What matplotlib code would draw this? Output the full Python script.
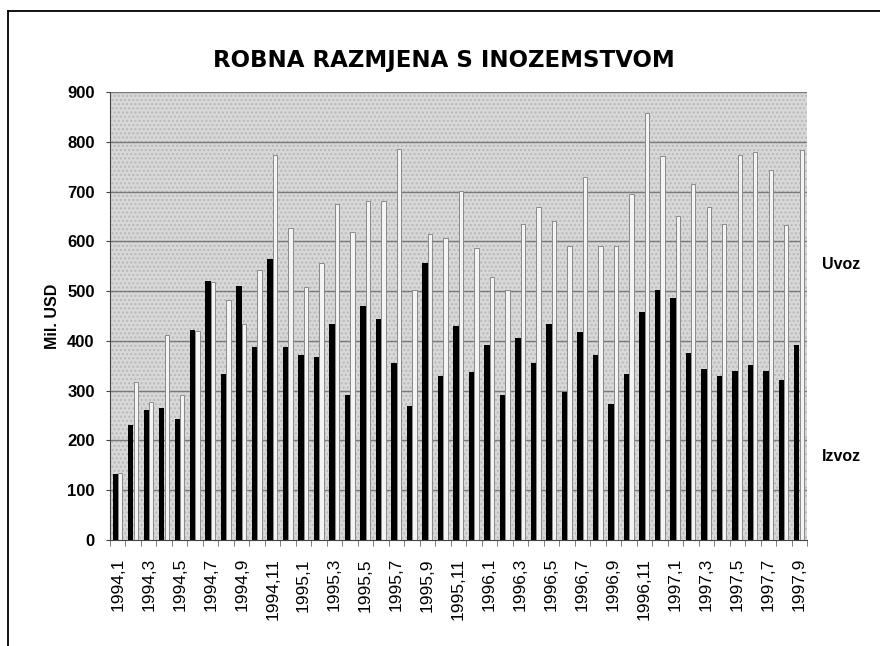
import numpy as np
import matplotlib
matplotlib.use("Agg")
import matplotlib.pyplot as plt
from matplotlib.patches import Rectangle
from matplotlib.lines import Line2D
import matplotlib.transforms as mtransforms

plt.rcParams['font.family'] = ['Liberation Sans', 'DejaVu Sans']

# ====== DATA (mil. USD, monthly) ======
years = [1994] * 12 + [1995] * 12 + [1996] * 12 + [1997] * 9
months = list(range(1, 13)) * 3 + list(range(1, 10))
izvoz = [132, 232, 261, 266, 244, 422, 521, 333, 511, 387, 564, 387,
         371, 367, 433, 291, 471, 443, 355, 270, 557, 329, 430, 337,
         392, 291, 405, 355, 434, 297, 418, 371, 274, 333, 458, 503,
         487, 376, 343, 330, 339, 351, 339, 321, 392]
uvoz = [135, 317, 278, 412, 291, 420, 519, 483, 433, 542, 773, 626,
        509, 557, 675, 619, 681, 681, 786, 503, 614, 606, 701, 586,
        529, 503, 635, 669, 641, 591, 730, 591, 590, 695, 858, 771,
        651, 716, 668, 635, 774, 780, 743, 633, 783]
labels = [f"{y},{m}" for y, m in zip(years, months)]
y_ticks = list(range(0, 1000, 100))

# ====== FIGURE ======
fig = plt.figure(figsize=(8.8, 6.46), dpi=100)
ax = fig.add_axes([110 / 880, 1 - 540 / 646, 697 / 880, 448 / 646])

x = np.arange(len(izvoz))
ax.set_xlim(-0.5, len(izvoz) - 0.5)
ax.set_ylim(0, 900)

# stippled grey plot area
ax.set_facecolor("#d8d8d8")
bg = Rectangle((0, 0), 1, 1, transform=ax.transAxes, facecolor="#d8d8d8",
               edgecolor="#b8b8b8", hatch="....", linewidth=0, zorder=0)
ax.add_patch(bg)

for v in y_ticks[1:]:
    ax.axhline(v, color="#7a7a7a", linewidth=1.0, zorder=1)

ax.bar(x - 0.16, izvoz, width=0.35, color="black", zorder=3)
ax.bar(x + 0.16, uvoz, width=0.28, color="#f4f4f4", edgecolor="#8a8a8a",
       linewidth=0.7, zorder=2)

# axes styling
for s in ["top", "right"]:
    ax.spines[s].set_visible(False)
ax.spines["left"].set_color("#444444")
ax.spines["bottom"].set_color("#444444")

ax.set_yticks(y_ticks)
ax.set_yticklabels([str(v) for v in y_ticks], fontsize=12, fontweight="bold")
ax.tick_params(axis="y", length=3, pad=8, color="#444444")

ax.set_xticks(x[::2])
ax.set_xticklabels(labels[::2], rotation=90, fontsize=12.5)
ax.set_xticks(np.arange(-0.5, len(izvoz), 1), minor=True)
ax.tick_params(axis="x", which="major", length=0, pad=13)
ax.tick_params(axis="x", which="minor", length=4, color="#666666")

ax.set_ylabel("Mil. USD", fontsize=11.5, fontweight="bold", labelpad=5)

fig.text(444 / 880, 1 - 60 / 646, "ROBNA RAZMJENA S INOZEMSTVOM",
         ha="center", va="center", fontsize=16.5, fontweight="bold",
         family="DejaVu Sans")

trans = mtransforms.blended_transform_factory(fig.transFigure, ax.transData)
ax.text(822 / 880, 553, "Uvoz", transform=trans, fontsize=11.5,
        fontweight="bold", ha="left", va="center")
ax.text(822 / 880, 167, "Izvoz", transform=trans, fontsize=11.5,
        fontweight="bold", ha="left", va="center")

# page frame (top and left edge)
fig.add_artist(Line2D([8 / 880, 1.0], [1 - 11 / 646, 1 - 11 / 646],
                      transform=fig.transFigure, color="black", linewidth=1.3))
fig.add_artist(Line2D([8 / 880, 8 / 880], [0.0, 1 - 11 / 646],
                      transform=fig.transFigure, color="black", linewidth=1.3))

fig.savefig("out.png", dpi=100)
